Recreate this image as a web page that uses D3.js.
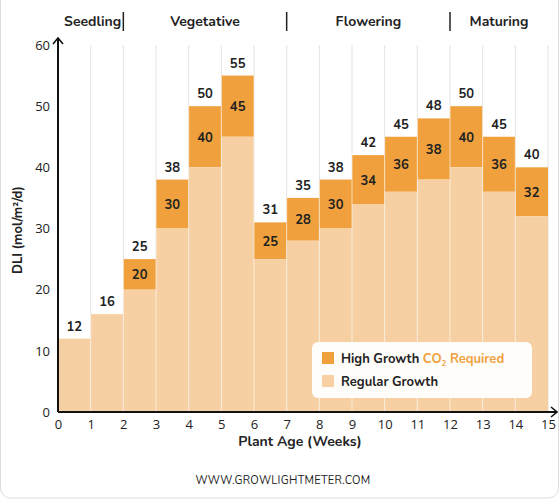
<!DOCTYPE html>
<html>
<head>
<meta charset="utf-8">
<script src="https://cdn.jsdelivr.net/npm/d3@7"></script>
<style>
  body { margin: 0; background: #fff; font-family: "Nunito", "Open Sans", sans-serif; }
</style>
</head>
<body>
<div id="chart"></div>
<script>
const weeks = [0, 1, 2, 3, 4, 5, 6, 7, 8, 9, 10, 11, 12, 13, 14];
const regular = [12, 16, 20, 30, 40, 45, 25, 28, 30, 34, 36, 38, 40, 36, 32];
const high = [null, null, 25, 38, 50, 55, 31, 35, 38, 42, 45, 48, 50, 45, 40];
const phases = [
  { name: "Seedling", from: 0, to: 2 },
  { name: "Vegetative", from: 2, to: 7 },
  { name: "Flowering", from: 7, to: 12 },
  { name: "Maturing", from: 12, to: 15 }
];
const xTicks = d3.range(0, 16);
const yTicks = [0, 10, 20, 30, 40, 50, 60];

const W = 560, H = 500;
const margin = { top: 45, right: 12, bottom: 88, left: 58 };
const width = 548 - margin.left;
const height = 412 - margin.top;

const svg = d3.select("#chart").append("svg")
  .attr("width", W).attr("height", H);

svg.append("rect").attr("x", 0.5).attr("y", -10).attr("width", W - 2).attr("height", H + 8)
  .attr("rx", 10).attr("fill", "#fff").attr("stroke", "#ddd");

const g = svg.append("g").attr("transform", `translate(${margin.left},${margin.top})`);

const x = d3.scaleLinear().domain([0, 15]).range([0, width]);
const y = d3.scaleLinear().domain([0, 60]).range([height, 0]);

// vertical gridlines
g.selectAll(".grid").data(xTicks.slice(1)).enter().append("line")
  .attr("x1", d => x(d)).attr("x2", d => x(d))
  .attr("y1", 0).attr("y2", height)
  .attr("stroke", "#e3e3e3").attr("stroke-width", 1);

// high growth bars
g.selectAll(".high").data(weeks.filter((w, i) => high[i] != null)).enter().append("rect")
  .attr("x", d => x(d)).attr("width", x(1) - x(0))
  .attr("y", d => y(high[d])).attr("height", d => y(regular[d]) - y(high[d]))
  .attr("fill", "#f0a13d");

// regular bars
g.selectAll(".reg").data(weeks).enter().append("rect")
  .attr("x", d => x(d)).attr("width", x(1) - x(0))
  .attr("y", d => y(regular[d])).attr("height", d => height - y(regular[d]))
  .attr("fill", "#f6d0a3");

// separators between bars
g.selectAll(".sep").data(xTicks.slice(1, 15)).enter().append("line")
  .attr("x1", d => x(d)).attr("x2", d => x(d))
  .attr("y1", d => y(Math.max(regular[d - 1], high[d - 1] || 0, regular[d], high[d] || 0)))
  .attr("y2", height)
  .attr("stroke", "#fff").attr("stroke-opacity", 0.6).attr("stroke-width", 1);

// labels
const lab = { "font-size": 13, "font-weight": "bold", fill: "#222", "text-anchor": "middle" };
function applyAttrs(sel, a) { Object.entries(a).forEach(([k, v]) => sel.attr(k, v)); return sel; }

applyAttrs(g.selectAll(".top").data(weeks).enter().append("text"), lab)
  .attr("x", d => x(d + 0.5))
  .attr("y", d => y(high[d] != null ? high[d] : regular[d]) - 8)
  .text(d => high[d] != null ? high[d] : regular[d]);

applyAttrs(g.selectAll(".mid").data(weeks.filter(w => high[w] != null)).enter().append("text"), lab)
  .attr("x", d => x(d + 0.5))
  .attr("y", d => (y(high[d]) + y(regular[d])) / 2 + 5)
  .text(d => regular[d]);

// axes
const xAxis = g.append("g").attr("transform", `translate(0,${height})`)
  .call(d3.axisBottom(x).tickValues(xTicks).tickSize(0).tickPadding(8));
const yAxis = g.append("g")
  .call(d3.axisLeft(y).tickValues(yTicks).tickSize(0).tickPadding(8));
[xAxis, yAxis].forEach(a => {
  a.select(".domain").remove();
  a.selectAll("text").attr("font-size", 13).attr("fill", "#222")
    .attr("font-family", "'Open Sans', sans-serif");
});
g.append("line").attr("x1", 0).attr("x2", width + 8).attr("y1", height).attr("y2", height)
  .attr("stroke", "#111").attr("stroke-width", 2);
g.append("line").attr("x1", 0).attr("x2", 0).attr("y1", height).attr("y2", -6)
  .attr("stroke", "#111").attr("stroke-width", 2);
g.append("path").attr("d", `M${width + 3},${height - 5}L${width + 9},${height}L${width + 3},${height + 5}`)
  .attr("fill", "none").attr("stroke", "#111").attr("stroke-width", 1.6);
g.append("path").attr("d", `M-5,-1L0,-7L5,-1`)
  .attr("fill", "none").attr("stroke", "#111").attr("stroke-width", 1.6);

// axis titles
svg.append("text").attr("x", 300).attr("y", 446).attr("text-anchor", "middle")
  .attr("font-size", 14).attr("font-weight", "bold").attr("fill", "#222").text("Plant Age (Weeks)");
svg.append("text").attr("transform", "translate(22,230) rotate(-90)").attr("text-anchor", "middle")
  .attr("font-size", 13).attr("font-weight", "bold").attr("fill", "#222").text("DLI (mol/m²/d)");

// phase headers
phases.forEach((p, i) => {
  svg.append("text").attr("x", margin.left + x((p.from + p.to) / 2) + (i === 0 ? 2 : 0)).attr("y", 26)
    .attr("text-anchor", "middle").attr("font-size", 14).attr("font-weight", "bold")
    .attr("fill", "#222").text(p.name);
  if (i > 0) {
    svg.append("line").attr("x1", margin.left + x(p.from)).attr("x2", margin.left + x(p.from))
      .attr("y1", 12).attr("y2", 31).attr("stroke", "#222").attr("stroke-width", 1.5);
  }
});

// legend
const lg = svg.append("g").attr("transform", "translate(312,342)");
lg.append("rect").attr("width", 220).attr("height", 56).attr("rx", 6)
  .attr("fill", "#fff").attr("fill-opacity", 0.95);
lg.append("rect").attr("x", 10).attr("y", 10).attr("width", 12).attr("height", 12).attr("fill", "#f0a13d");
lg.append("rect").attr("x", 10).attr("y", 33).attr("width", 12).attr("height", 12).attr("fill", "#f6d0a3");
const t1 = lg.append("text").attr("x", 29).attr("y", 21).attr("font-size", 13).attr("font-weight", "bold").attr("fill", "#222");
t1.append("tspan").text("High Growth ");
t1.append("tspan").attr("fill", "#f0a13d").text("CO");
t1.append("tspan").attr("fill", "#f0a13d").attr("font-size", 8).attr("dy", 3).text("2");
t1.append("tspan").attr("fill", "#f0a13d").attr("dy", -3).text(" Required");
lg.append("text").attr("x", 29).attr("y", 44).attr("font-size", 13).attr("font-weight", "bold")
  .attr("fill", "#222").text("Regular Growth");

svg.append("text").attr("x", 283).attr("y", 484).attr("text-anchor", "middle")
  .attr("font-size", 11).attr("fill", "#222").attr("letter-spacing", 0.3).text("WWW.GROWLIGHTMETER.COM");
</script>
</body>
</html>
